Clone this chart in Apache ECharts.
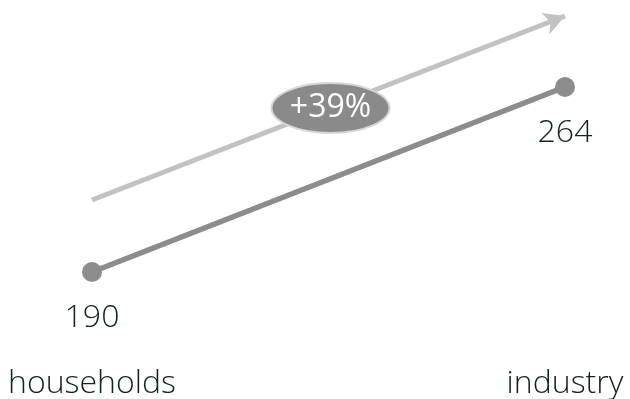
<!DOCTYPE html>
<html>
<head>
<meta charset="utf-8">
<script src="https://cdn.jsdelivr.net/npm/echarts@6/dist/echarts.min.js"></script>
<style>
  html, body { margin: 0; padding: 0; background: #fff; }
  #chart { width: 630px; height: 399px; }
</style>
</head>
<body>
<div id="chart"></div>
<script>
// Sectors being compared and their values
const categories = ['households', 'industry'];
const values = [190, 264];
// Trend arrow drawn parallel above the values
const trendArrow = [218.8, 292.4];

const growth = Math.round((values[1] - values[0]) / values[0] * 100);
const textColor = '#12241a';
const font = '"Open Sans", "Segoe UI", sans-serif';

const chart = echarts.init(document.getElementById('chart'));
chart.setOption({
  animation: false,
  grid: { left: 92, right: 65, top: 2, bottom: 27, outerBoundsMode: 'none' },
  xAxis: {
    type: 'category',
    data: categories,
    boundaryGap: false,
    axisLine: { show: false },
    axisTick: { show: false },
    splitLine: { show: false },
    axisLabel: {
      color: textColor,
      fontFamily: font,
      fontWeight: 300,
      fontSize: 32,
      margin: 12,
      verticalAlign: 'middle',
      lineHeight: 34,
      align: 'center'
    }
  },
  yAxis: {
    type: 'value',
    min: 150,
    max: 298,
    show: false
  },
  series: [
    {
      type: 'line',
      data: trendArrow,
      symbol: 'none',
      lineStyle: { width: 0, opacity: 0 },
      silent: true,
      markLine: {
        silent: true,
        symbol: ['none', 'arrow'],
        symbolSize: [17, 21],
        label: { show: false },
        lineStyle: { color: '#c2c2c2', width: 5, type: 'solid' },
        data: [[
          { coord: [categories[0], trendArrow[0]] },
          { coord: [categories[1], trendArrow[1]] }
        ]]
      }
    },
    {
      type: 'line',
      data: values,
      symbol: 'circle',
      symbolSize: 20,
      lineStyle: { color: '#8c8c8c', width: 5.5 },
      itemStyle: { color: '#8c8c8c' },
      label: {
        show: true,
        position: 'bottom',
        distance: 20,
        color: textColor,
        fontFamily: font,
        fontWeight: 300,
        fontSize: 32
      }
    }
  ]
});

// Growth badge centred on the middle of the trend arrow
const p0 = chart.convertToPixel({ gridIndex: 0 }, [0, trendArrow[0]]);
const p1 = chart.convertToPixel({ gridIndex: 0 }, [1, trendArrow[1]]);
const cx = (p0[0] + p1[0]) / 2 + 2;
const cy = (p0[1] + p1[1]) / 2;
chart.setOption({
  graphic: [
    {
      type: 'ellipse',
      shape: { cx: cx, cy: cy, rx: 59, ry: 25 },
      style: { fill: '#8a8a8a', stroke: '#d6d6d6', lineWidth: 2 },
      z: 10
    },
    {
      type: 'text',
      x: cx,
      y: cy,
      style: {
        text: '+' + growth + '%',
        fill: '#ffffff',
        font: '32px ' + font,
        align: 'center',
        verticalAlign: 'middle'
      },
      z: 11
    }
  ]
});
</script>
</body>
</html>
